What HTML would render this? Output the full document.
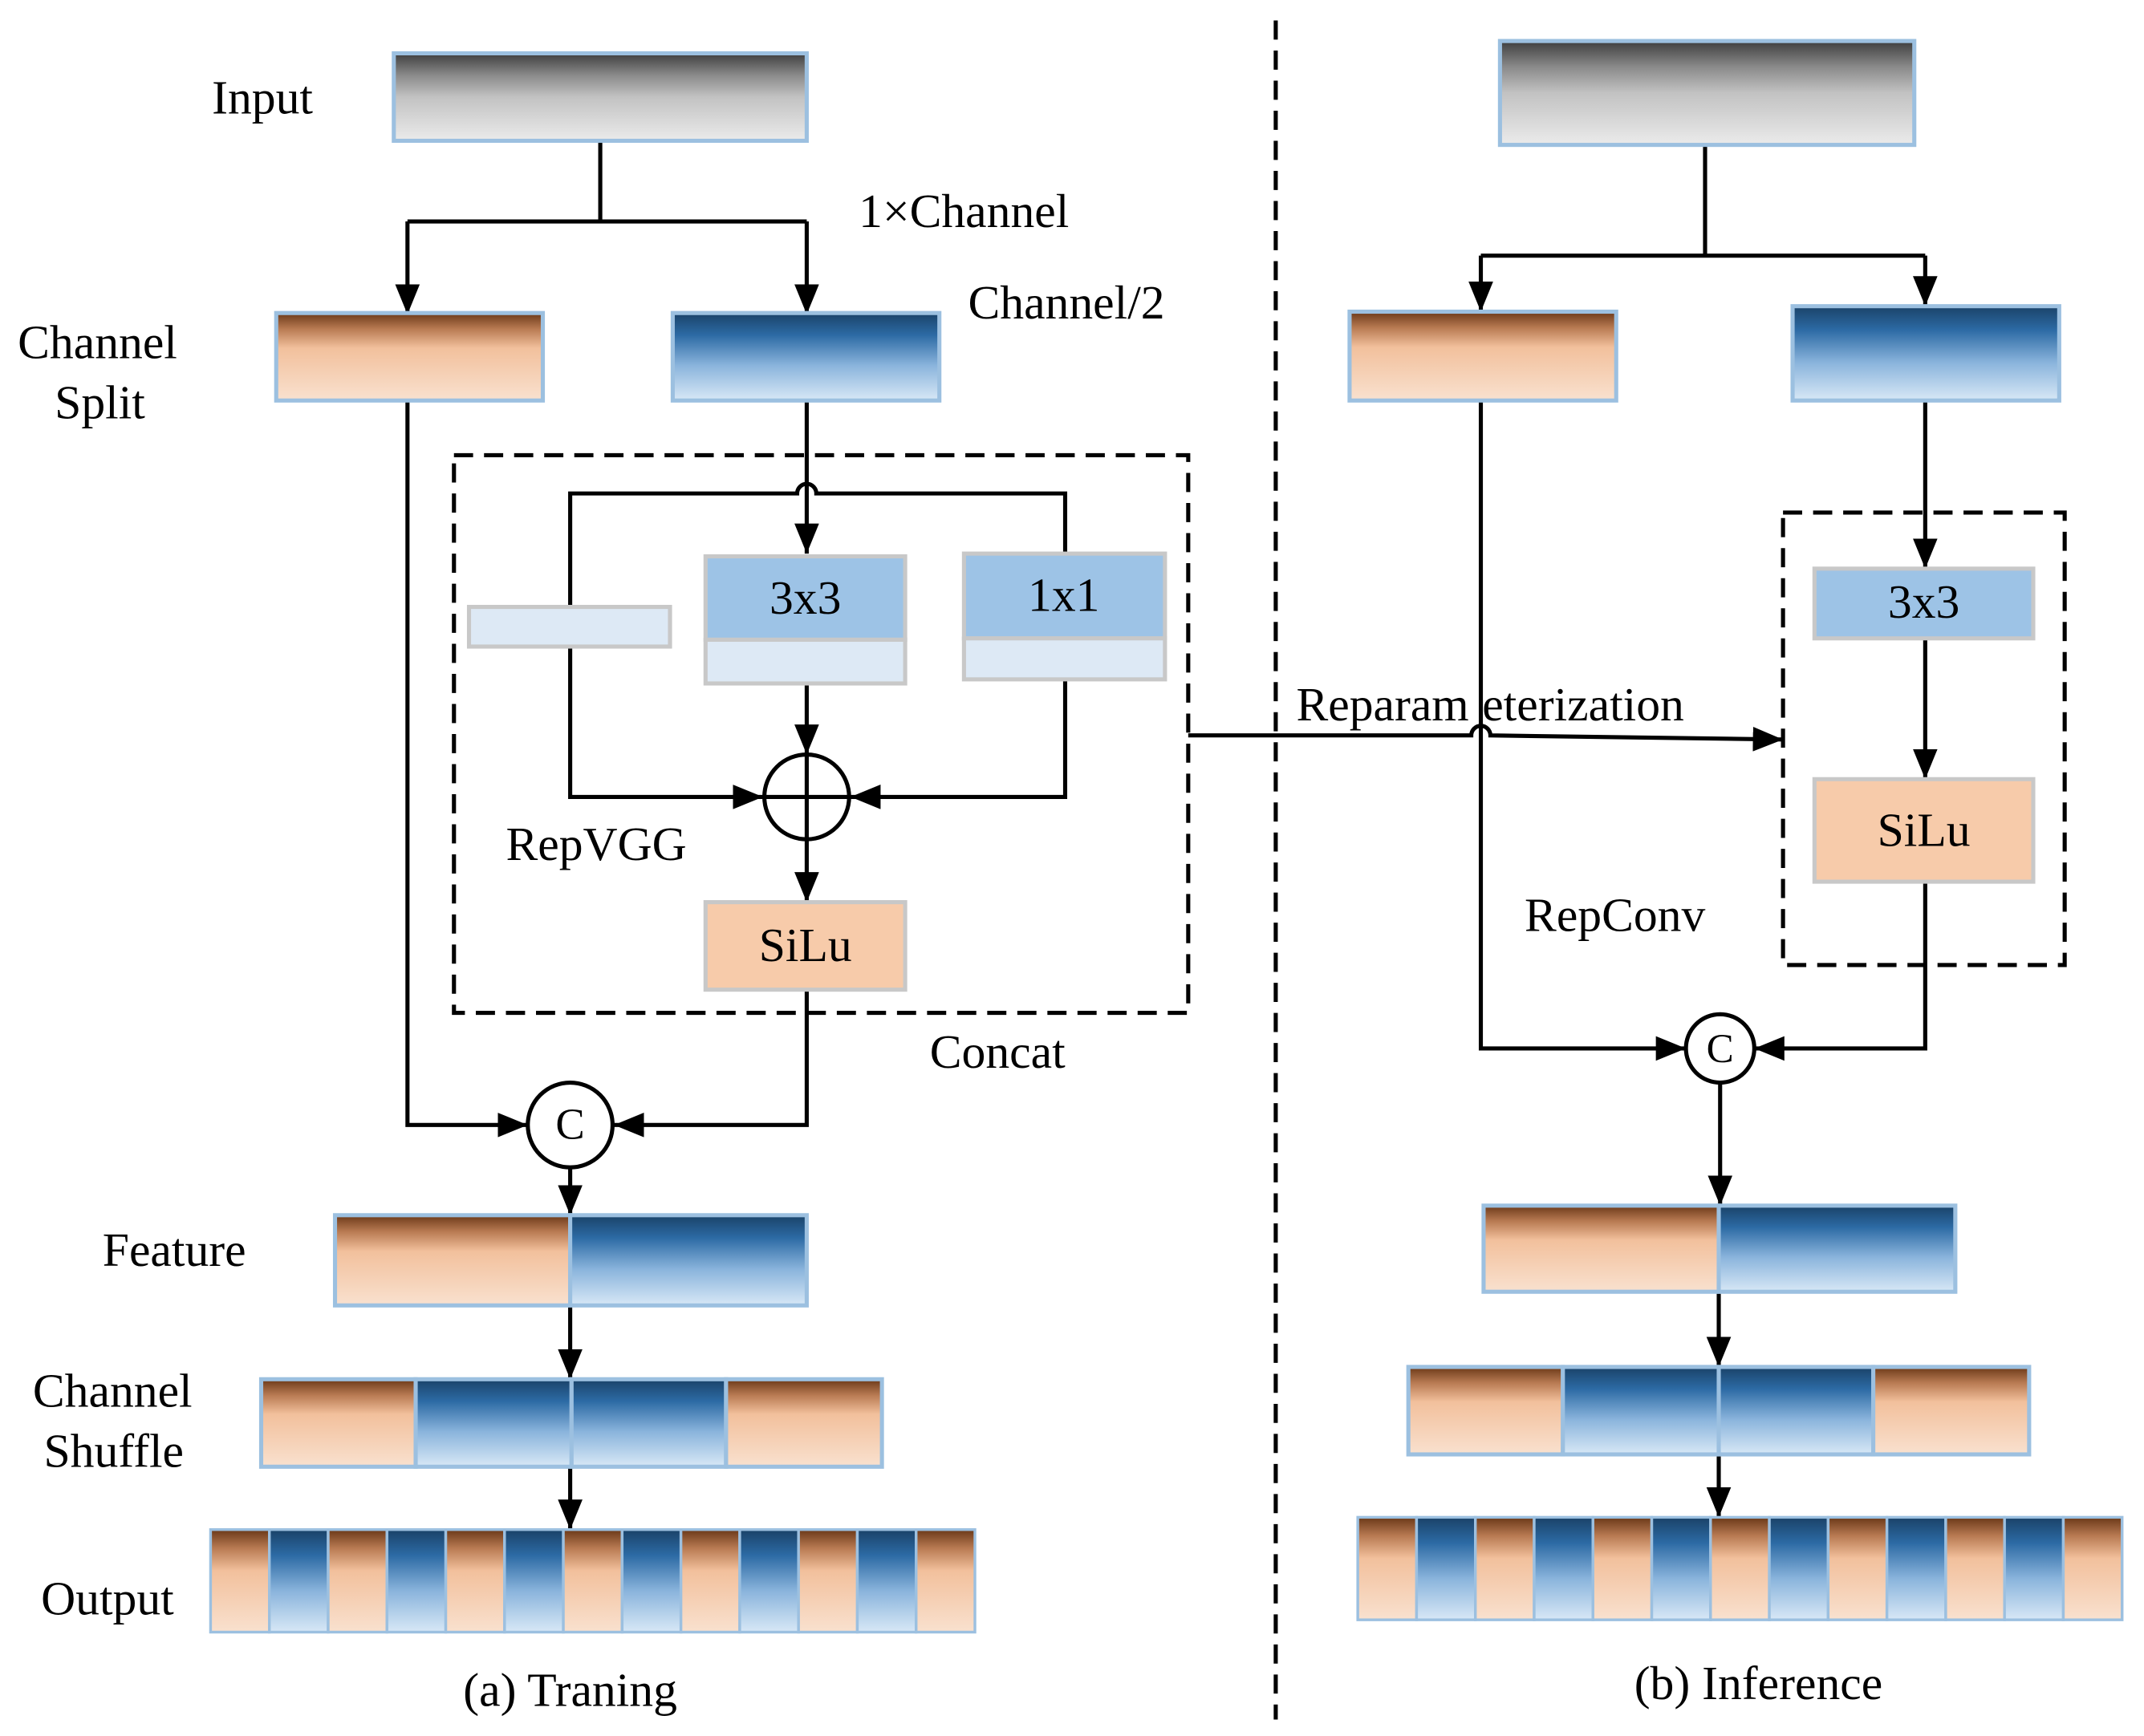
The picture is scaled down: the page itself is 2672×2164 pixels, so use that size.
<!DOCTYPE html>
<html><head><meta charset="utf-8"><style>
html,body{margin:0;padding:0;background:#fff;}
svg{display:block;}
text{font-family:"Liberation Serif","Times New Roman",serif;fill:#000;}
</style></head><body>
<svg width="2672" height="2164" viewBox="0 0 1568 1270" preserveAspectRatio="none" xmlns="http://www.w3.org/2000/svg" font-family="Liberation Serif, serif">
<defs>
<linearGradient id="gr" x1="0" y1="0" x2="0" y2="1">
<stop offset="0" stop-color="#3e3e3e"/><stop offset="0.25" stop-color="#8a8a8a"/><stop offset="0.5" stop-color="#c2c2c2"/><stop offset="1" stop-color="#ebebeb"/></linearGradient>
<linearGradient id="or" x1="0" y1="0" x2="0" y2="1">
<stop offset="0" stop-color="#6a3818"/><stop offset="0.18" stop-color="#b87a52"/><stop offset="0.4" stop-color="#f2c09c"/><stop offset="1" stop-color="#f9e1cf"/></linearGradient>
<linearGradient id="bl" x1="0" y1="0" x2="0" y2="1">
<stop offset="0" stop-color="#1a4268"/><stop offset="0.25" stop-color="#2c6aa4"/><stop offset="0.6" stop-color="#8ab4dc"/><stop offset="1" stop-color="#d8e8f6"/></linearGradient>
<marker id="ad" viewBox="0 0 22 18" markerWidth="22" markerHeight="18" refX="22" refY="9" orient="auto" markerUnits="userSpaceOnUse"><path d="M0,0 L22,9 L0,18 z" fill="#000"/></marker>
</defs>

<line x1="933" y1="15" x2="933" y2="1258" stroke="#000" stroke-width="3" stroke-dasharray="14,8"/>

<g stroke="#000" stroke-width="3" fill="none">
<path d="M439,103 V162 M298,162 H590"/>
<path d="M298,162 V230" marker-end="url(#ad)"/>
<path d="M590,162 V230" marker-end="url(#ad)"/>
<rect x="332" y="333" width="537" height="408" stroke-dasharray="14,8"/>
<path d="M590,293 V405" marker-end="url(#ad)"/>
<path d="M417,444 V361 H583 A7,7 0 0 1 597,361 H779 V405"/>
<path d="M417,473 V583 H558" marker-end="url(#ad)"/>
<path d="M779,497 V583 H622" marker-end="url(#ad)"/>
<path d="M590,500 V552" marker-end="url(#ad)"/>
<circle cx="590" cy="583" r="31"/>
<path d="M559,583 H621 M590,552 V614"/>
<path d="M590,614 V660" marker-end="url(#ad)"/>
<path d="M590,724 V823 H449" marker-end="url(#ad)"/>
<path d="M298,293 V823 H386" marker-end="url(#ad)"/>
<circle cx="417" cy="823" r="31"/>
<path d="M417,854 V889" marker-end="url(#ad)"/>
<path d="M417,955 V1009" marker-end="url(#ad)"/>
<path d="M417,1073 V1119" marker-end="url(#ad)"/>
<path d="M1247,106 V187 M1083,187 H1408"/>
<path d="M1083,187 V228" marker-end="url(#ad)"/>
<path d="M1408,187 V224" marker-end="url(#ad)"/>
<path d="M1083,293 V767 H1233" marker-end="url(#ad)"/>
<path d="M1408,293 V416" marker-end="url(#ad)"/>
<rect x="1304" y="375" width="206" height="331" stroke-dasharray="14,8"/>
<path d="M1408,467 V570" marker-end="url(#ad)"/>
<path d="M1408,645 V767 H1283" marker-end="url(#ad)"/>
<circle cx="1258" cy="767" r="25"/>
<path d="M1258,792 V882" marker-end="url(#ad)"/>
<path d="M1257,945 V1000" marker-end="url(#ad)"/>
<path d="M1257,1064 V1110" marker-end="url(#ad)"/>
<path d="M869,538 H1076 A7,7 0 0 1 1090,538 L1304,541" marker-end="url(#ad)"/>
</g>

<g stroke="#9cc0e0" stroke-width="3">
<rect x="288" y="39" width="302" height="64" fill="url(#gr)"/>
<rect x="202" y="229" width="195" height="64" fill="url(#or)"/>
<rect x="492" y="229" width="195" height="64" fill="url(#bl)"/>
<rect x="245" y="889" width="172" height="66" fill="url(#or)"/>
<rect x="417" y="889" width="173" height="66" fill="url(#bl)"/>
<rect x="191" y="1009" width="113" height="64" fill="url(#or)"/>
<rect x="304" y="1009" width="114" height="64" fill="url(#bl)"/>
<rect x="418" y="1009" width="113" height="64" fill="url(#bl)"/>
<rect x="531" y="1009" width="114" height="64" fill="url(#or)"/>
<rect x="1097" y="30" width="303" height="76" fill="url(#gr)"/>
<rect x="987" y="228" width="195" height="65" fill="url(#or)"/>
<rect x="1311" y="224" width="195" height="69" fill="url(#bl)"/>
<rect x="1085" y="882" width="172" height="63" fill="url(#or)"/>
<rect x="1257" y="882" width="173" height="63" fill="url(#bl)"/>
<rect x="1030" y="1000" width="113" height="64" fill="url(#or)"/>
<rect x="1143" y="1000" width="114" height="64" fill="url(#bl)"/>
<rect x="1257" y="1000" width="113" height="64" fill="url(#bl)"/>
<rect x="1370" y="1000" width="114" height="64" fill="url(#or)"/>
</g>
<g stroke="#9cc0e0" stroke-width="2">
<rect x="154" y="1119" width="43" height="75" fill="url(#or)"/><rect x="197" y="1119" width="43" height="75" fill="url(#bl)"/>
<rect x="240" y="1119" width="43" height="75" fill="url(#or)"/><rect x="283" y="1119" width="43" height="75" fill="url(#bl)"/>
<rect x="326" y="1119" width="43" height="75" fill="url(#or)"/><rect x="369" y="1119" width="43" height="75" fill="url(#bl)"/>
<rect x="412" y="1119" width="43" height="75" fill="url(#or)"/><rect x="455" y="1119" width="43" height="75" fill="url(#bl)"/>
<rect x="498" y="1119" width="43" height="75" fill="url(#or)"/><rect x="541" y="1119" width="43" height="75" fill="url(#bl)"/>
<rect x="584" y="1119" width="43" height="75" fill="url(#or)"/><rect x="627" y="1119" width="43" height="75" fill="url(#bl)"/>
<rect x="670" y="1119" width="43" height="75" fill="url(#or)"/>
<rect x="993" y="1110" width="43" height="75" fill="url(#or)"/><rect x="1036" y="1110" width="43" height="75" fill="url(#bl)"/>
<rect x="1079" y="1110" width="43" height="75" fill="url(#or)"/><rect x="1122" y="1110" width="43" height="75" fill="url(#bl)"/>
<rect x="1165" y="1110" width="43" height="75" fill="url(#or)"/><rect x="1208" y="1110" width="43" height="75" fill="url(#bl)"/>
<rect x="1251" y="1110" width="43" height="75" fill="url(#or)"/><rect x="1294" y="1110" width="43" height="75" fill="url(#bl)"/>
<rect x="1337" y="1110" width="43" height="75" fill="url(#or)"/><rect x="1380" y="1110" width="43" height="75" fill="url(#bl)"/>
<rect x="1423" y="1110" width="43" height="75" fill="url(#or)"/><rect x="1466" y="1110" width="43" height="75" fill="url(#bl)"/>
<rect x="1509" y="1110" width="43" height="75" fill="url(#or)"/>
</g>

<g stroke="#c8c8c8" stroke-width="3">
<rect x="343" y="444" width="147" height="29" fill="#dde9f5"/>
<rect x="516" y="407" width="146" height="61" fill="#9dc3e6"/>
<rect x="516" y="468" width="146" height="32" fill="#dde9f5"/>
<rect x="705" y="405" width="147" height="62" fill="#9dc3e6"/>
<rect x="705" y="467" width="147" height="30" fill="#dde9f5"/>
<rect x="516" y="660" width="146" height="64" fill="#f7cbaa"/>
<rect x="1327" y="416" width="160" height="51" fill="#9dc3e6"/>
<rect x="1327" y="570" width="160" height="75" fill="#f7cbaa"/>
</g>

<g font-size="35">
<text x="155" y="83">Input</text>
<text x="628" y="166">1×Channel</text>
<text x="708" y="233">Channel/2</text>
<text x="13" y="262">Channel</text>
<text x="40" y="306">Split</text>
<text x="589" y="449" text-anchor="middle">3x3</text>
<text x="778" y="447" text-anchor="middle">1x1</text>
<text x="370" y="629">RepVGG</text>
<text x="589" y="703" text-anchor="middle">SiLu</text>
<text x="680" y="781">Concat</text>
<text x="417" y="833" text-anchor="middle" font-size="32">C</text>
<text x="75" y="926">Feature</text>
<text x="24" y="1029">Channel</text>
<text x="32" y="1073">Shuffle</text>
<text x="30" y="1181">Output</text>
<text x="417" y="1248" text-anchor="middle">(a) Traning</text>
<text x="948" y="527">Reparam</text>
<text x="1084" y="527">eterization</text>
<text x="1407" y="452" text-anchor="middle">3x3</text>
<text x="1407" y="619" text-anchor="middle">SiLu</text>
<text x="1115" y="681">RepConv</text>
<text x="1258" y="777" text-anchor="middle" font-size="30">C</text>
<text x="1286" y="1243" text-anchor="middle">(b) Inference</text>
</g>
</svg>
</body></html>
